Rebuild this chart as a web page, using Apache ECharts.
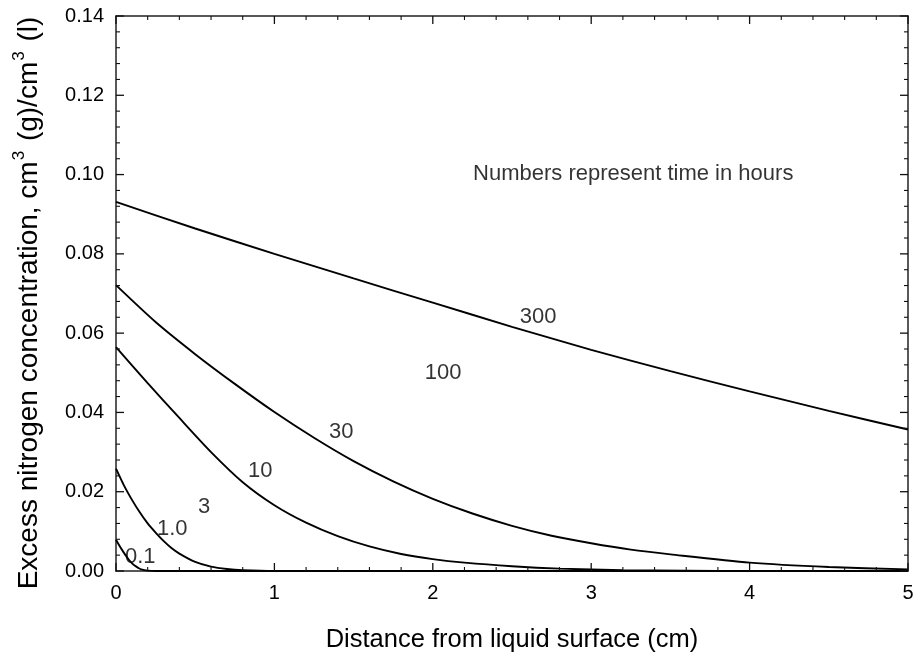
<!DOCTYPE html>
<html>
<head>
<meta charset="utf-8">
<script src="https://cdn.jsdelivr.net/npm/echarts@6/dist/echarts.min.js"></script>
<style>
html,body{margin:0;padding:0;background:#fff;}
#chart{width:914px;height:655px;}
</style>
</head>
<body>
<div id="chart"></div>
<script>
// ---- data ----
var xTicks = [0, 1, 2, 3, 4, 5];
var yTicks = [0.00, 0.02, 0.04, 0.06, 0.08, 0.10, 0.12, 0.14];
var xMinorPerMajor = 5, yMinorPerMajor = 5;

var x300 = [0, 0.5, 1, 1.5, 2, 2.5, 3, 3.5, 4, 4.5, 5];
var y300 = [0.0931, 0.0864, 0.0800, 0.0738, 0.0677, 0.0616, 0.0558, 0.0504, 0.0453, 0.0404, 0.0357];

var x30 = [0, 0.25, 0.5, 0.75, 1, 1.25, 1.5, 1.75, 2, 2.25, 2.5, 2.75, 3, 3.25, 3.5, 4, 4.5, 5];
var y30 = [0.0721, 0.0628, 0.0547, 0.0472, 0.0401, 0.0336, 0.0277, 0.0226, 0.0182, 0.0145, 0.0114, 0.0089, 0.0070, 0.0054, 0.0042, 0.0021, 0.0010, 0.0004];

var x10 = [0, 0.2, 0.4, 0.6, 0.8, 1.0, 1.2, 1.4, 1.6, 1.8, 2.0, 2.2, 2.5, 2.8, 3.2, 3.6, 4, 5];
var y10 = [0.0565, 0.0474, 0.0386, 0.0300, 0.0224, 0.0166, 0.0122, 0.0088, 0.0062, 0.0043, 0.0030, 0.0021, 0.0012, 0.0006, 0.0002, 0.0001, 0, 0];

var x1 = [0, 0.05, 0.1, 0.15, 0.2, 0.25, 0.3, 0.35, 0.4, 0.5, 0.6, 0.7, 0.8, 1.0, 5];
var y1 = [0.0258, 0.0216, 0.0180, 0.0148, 0.0120, 0.0097, 0.0076, 0.0058, 0.0044, 0.0023, 0.0011, 0.0005, 0.0002, 0, 0];

var x01 = [0, 0.02, 0.04, 0.06, 0.08, 0.1, 0.12, 0.14, 0.16, 0.2, 0.25, 5];
var y01 = [0.0079, 0.0065, 0.0052, 0.0040, 0.0029, 0.0020, 0.0013, 0.0008, 0.0004, 0.0001, 0, 0];

var labelTexts = ['0.1', '1.0', '3', '10', '30', '100', '300'];
var labelX = [0.153, 0.355, 0.557, 0.910, 1.422, 2.065, 2.665];
var labelY = [0.0035, 0.0105, 0.0162, 0.0252, 0.0351, 0.0499, 0.0641];

var noteText = 'Numbers represent time in hours';
var noteX = 2.254, noteY = 0.1002;

var xTitle = 'Distance from liquid surface (cm)';
var yTitleParts = ['Excess nitrogen concentration, cm', '3', ' (g)/cm', '3', ' (l)'];

// ---- build ----
function pairs(xs, ys) { return xs.map(function (x, i) { return [x, ys[i]]; }); }
var curves = [[x300, y300], [x30, y30], [x10, y10], [x1, y1], [x01, y01]];

var FONT = '"Liberation Sans", Arial, Helvetica, sans-serif';
var X_MIN = xTicks[0], X_MAX = xTicks[xTicks.length - 1];
var Y_MIN = yTicks[0], Y_MAX = yTicks[yTicks.length - 1];
var MAJOR_LEN = 8, MINOR_LEN = 4;

var series = curves.map(function (c) {
  return {
    type: 'line', data: pairs(c[0], c[1]), showSymbol: false, symbol: 'none',
    smooth: 0.25,
    lineStyle: { color: '#000', width: 1.9 }, z: 3, silent: true
  };
});
series.push({
  type: 'scatter', symbolSize: 0, silent: true, z: 4,
  data: labelTexts.map(function (t, i) { return [labelX[i], labelY[i], t]; }),
  label: { show: true, position: 'inside', formatter: function (p) { return p.data[2]; },
    color: '#000', fontSize: 22, fontFamily: FONT, textBorderWidth: 0 }
});
series.push({
  type: 'scatter', symbolSize: 0, silent: true, z: 4,
  data: [[noteX, noteY, noteText]],
  label: { show: true, position: 'right', distance: 0, formatter: function (p) { return p.data[2]; },
    color: '#000', fontSize: 22, fontFamily: FONT, textBorderWidth: 0 }
});

function axisLine() { return { show: true, onZero: false, lineStyle: { color: '#222', width: 1.5 } }; }

var yTitleRich = '{a|' + yTitleParts[0] + '}{s|' + yTitleParts[1] + '}{a|' + yTitleParts[2] +
  '}{s|' + yTitleParts[3] + '}{a|' + yTitleParts[4] + '}';

var titleGraphic = {
  type: 'text', x: 27, y: 303, rotation: Math.PI / 2, silent: true, z: 50,
  style: {
    text: yTitleRich, align: 'center', verticalAlign: 'middle', fill: '#000',
    font: '28px ' + FONT,
    rich: {
      a: { fontSize: 28, fontFamily: FONT, fill: '#000', lineHeight: 32, verticalAlign: 'bottom' },
      s: { fontSize: 17, fontFamily: FONT, fill: '#000', lineHeight: 32, verticalAlign: 'top', padding: [0, 2, 0, 1] }
    }
  }
};

var option = {
  animation: false,
  backgroundColor: '#fff',
  grid: { show: false, left: 116, right: 6, top: 16, bottom: 84, containLabel: false, outerBoundsMode: 'none' },
  xAxis: [{
    type: 'value', min: X_MIN, max: X_MAX, interval: 1,
    axisLine: axisLine(), axisTick: { show: false }, minorTick: { show: false },
    splitLine: { show: false },
    axisLabel: { color: '#000', fontSize: 20, fontFamily: FONT, margin: 12 },
    name: xTitle, nameLocation: 'middle', nameGap: 56,
    nameTextStyle: { color: '#000', fontSize: 25.5, fontFamily: FONT }
  }, {
    type: 'value', position: 'top', min: X_MIN, max: X_MAX, interval: 1,
    axisLine: axisLine(), axisTick: { show: false }, minorTick: { show: false },
    splitLine: { show: false }, axisLabel: { show: false }
  }],
  yAxis: [{
    type: 'value', min: Y_MIN, max: Y_MAX, interval: 0.02,
    axisLine: axisLine(), axisTick: { show: false }, minorTick: { show: false },
    splitLine: { show: false },
    axisLabel: { color: '#000', fontSize: 20, fontFamily: FONT, margin: 12,
      formatter: function (v) { return v.toFixed(2); } }
  }, {
    type: 'value', position: 'right', min: Y_MIN, max: Y_MAX, interval: 0.02,
    axisLine: axisLine(), axisTick: { show: false }, minorTick: { show: false },
    splitLine: { show: false }, axisLabel: { show: false }
  }],
  graphic: [titleGraphic],
  series: series
};

var chart = echarts.init(document.getElementById('chart'), null, { renderer: 'canvas' });
chart.setOption(option);

// inward tick marks on all four sides, placed through the chart's own scales
var finder = { xAxisIndex: 0, yAxisIndex: 0 };
function px(x, y) { return chart.convertToPixel(finder, [x, y]); }
var tickEls = [];
function seg(x1, y1, x2, y2, major) {
  tickEls.push({ type: 'line', silent: true, z: 60,
    shape: { x1: x1, y1: y1, x2: x2, y2: y2 },
    style: { stroke: '#111', lineWidth: major ? 1.3 : 1.1 } });
}
function addXTick(v, major) {
  var len = major ? MAJOR_LEN : MINOR_LEN;
  var b = px(v, Y_MIN), t = px(v, Y_MAX);
  seg(b[0], b[1], b[0], b[1] - len, major);
  seg(t[0], t[1], t[0], t[1] + len, major);
}
function addYTick(v, major) {
  var len = major ? MAJOR_LEN : MINOR_LEN;
  var l = px(X_MIN, v), r = px(X_MAX, v);
  seg(l[0], l[1], l[0] + len, l[1], major);
  seg(r[0], r[1], r[0] - len, r[1], major);
}
(function () {
  var i, j, a, b;
  for (i = 0; i < xTicks.length; i++) {
    addXTick(xTicks[i], true);
    if (i < xTicks.length - 1) {
      a = xTicks[i]; b = xTicks[i + 1];
      for (j = 1; j < xMinorPerMajor; j++) addXTick(a + (b - a) * j / xMinorPerMajor, false);
    }
  }
  for (i = 0; i < yTicks.length; i++) {
    addYTick(yTicks[i], true);
    if (i < yTicks.length - 1) {
      a = yTicks[i]; b = yTicks[i + 1];
      for (j = 1; j < yMinorPerMajor; j++) addYTick(a + (b - a) * j / yMinorPerMajor, false);
    }
  }
})();
option.graphic = [titleGraphic].concat(tickEls);
chart.setOption(option, true);
</script>
</body>
</html>
